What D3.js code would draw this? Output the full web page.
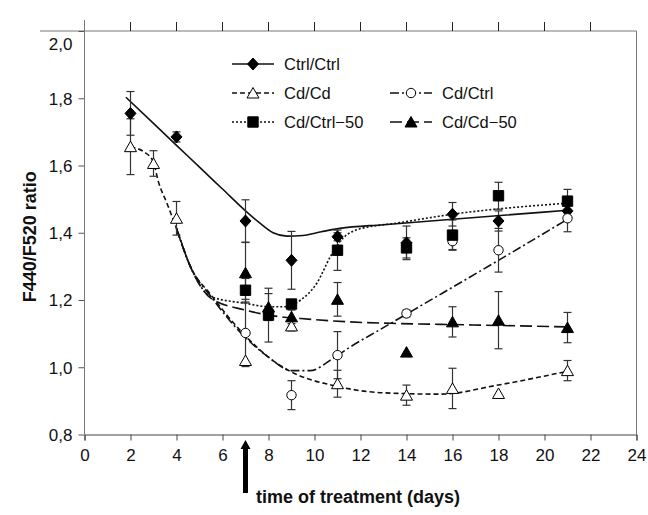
<!DOCTYPE html>
<html>
<head>
<meta charset="utf-8">
<script src="https://cdn.jsdelivr.net/npm/d3@7"></script>
<style>
  body { margin: 0; background: #fff; }
  text { font-family: "Liberation Sans", Arial, sans-serif; fill: #111; }
</style>
</head>
<body>
<svg id="chart" width="648" height="515"></svg>
<script>

const ctrlCtrlDays = [2, 4, 7, 9, 11, 14, 16, 18, 21];
const ctrlCtrlMean = [1.755, 1.685, 1.435, 1.318, 1.388, 1.37, 1.455, 1.435, 1.465];
const ctrlCtrlErr  = [0.065, 0.015, 0.063, 0.086, 0.012, 0.05, 0.035, 0.03, 0.02];

const cdCdDays = [2, 3, 4, 7, 9, 11, 14, 16, 18, 21];
const cdCdMean = [1.656, 1.606, 1.443, 1.02, 1.123, 0.951, 0.917, 0.937, 0.922, 0.99];
const cdCdErr  = [0.083, 0.038, 0.05, 0, 0.015, 0.04, 0.03, 0.06, 0, 0.03];

const cdCtrlDays = [7, 9, 11, 14, 16, 18, 21];
const cdCtrlMean = [1.102, 0.917, 1.036, 1.16, 1.375, 1.348, 1.443];
const cdCtrlErr  = [0.1, 0.043, 0.07, 0.01, 0.025, 0.065, 0.04];

const cdCtrl50Days = [7, 8, 9, 11, 14, 16, 18, 21];
const cdCtrl50Mean = [1.229, 1.155, 1.188, 1.348, 1.355, 1.393, 1.51, 1.494];
const cdCtrl50Err  = [0.035, 0.08, 0.01, 0.06, 0.03, 0.045, 0.04, 0.035];

const cdCd50Days = [7, 8, 9, 11, 14, 16, 18, 21];
const cdCd50Mean = [1.281, 1.179, 1.15, 1.202, 1.045, 1.135, 1.14, 1.118];
const cdCd50Err  = [0.09, 0.04, 0.02, 0.05, 0, 0.045, 0.085, 0.045];

// Fitted curves [day, value]
const ctrlCtrlFit = [[1.8,1.803],[4,1.66],[5,1.595],[6,1.53],[7,1.465],[7.6,1.43],[8.2,1.40],
  [8.8,1.39],[9.5,1.392],[10.3,1.403],[11.1,1.413],[13,1.424],[16,1.44],[21,1.467]];
const cdCdFit = [[2,1.655],[2.6,1.64],[3,1.61],[3.2,1.555],[3.6,1.485],[4,1.413],[4.6,1.30],
  [5.5,1.215],[6.9,1.10],[8,1.03],[9,0.986],[10.8,0.946],[13,0.924],[15.5,0.92],[17.9,0.946],[21,0.988]];
const cdCtrlFit = [[4,1.413],[4.6,1.30],[5.5,1.21],[6.9,1.095],[8,1.03],[9,0.99],[9.8,0.99],
  [10.8,1.026],[11.5,1.058],[12.85,1.112],[14.3,1.17],[18,1.318],[21,1.44]];
const cdCtrl50Fit = [[4,1.413],[4.6,1.30],[5.5,1.21],[7,1.19],[8,1.18],[8.7,1.18],[9.4,1.20],
  [10.1,1.25],[10.7,1.33],[11.1,1.373],[11.8,1.408],[13.7,1.43],[16,1.455],[21,1.488]];
const cdCd50Fit = [[4,1.413],[4.6,1.30],[5.5,1.205],[7,1.17],[8,1.155],[9.4,1.145],[11.5,1.135],
  [13.7,1.13],[16,1.127],[21,1.12]];

// Axis ticks and labels
const xTicks = [0, 2, 4, 6, 8, 10, 12, 14, 16, 18, 20, 22, 24];
const yTicks = [0.8, 1.0, 1.2, 1.4, 1.6, 1.8, 2.0];
const xTitle = "time of treatment (days)";
const yTitle = "F440/F520 ratio";
const treatmentDay = 7;

// Series table built from the arrays above
const series = [
  { name: "Ctrl/Ctrl",  days: ctrlCtrlDays, mean: ctrlCtrlMean, err: ctrlCtrlErr, fit: ctrlCtrlFit, symbol: "diamond", dash: null,      col: 0, row: 0 },
  { name: "Cd/Cd",      days: cdCdDays,     mean: cdCdMean,     err: cdCdErr,     fit: cdCdFit,     symbol: "triOpen", dash: "5,3",     col: 0, row: 1 },
  { name: "Cd/Ctrl",    days: cdCtrlDays,   mean: cdCtrlMean,   err: cdCtrlErr,   fit: cdCtrlFit,   symbol: "circle",  dash: "9,3,2,3", col: 1, row: 1 },
  { name: "Cd/Ctrl\u221250", days: cdCtrl50Days, mean: cdCtrl50Mean, err: cdCtrl50Err, fit: cdCtrl50Fit, symbol: "square", dash: "2,2", col: 0, row: 2 },
  { name: "Cd/Cd\u221250",   days: cdCd50Days,   mean: cdCd50Mean,   err: cdCd50Err,   fit: cdCd50Fit,   symbol: "triFill", dash: "12,5", col: 1, row: 2 }
];

const svg = d3.select("#chart");

const x = d3.scaleLinear().domain([0, 24]).range([84.5, 636.5]);
const y = d3.scaleLinear().domain([0.8, 2.0]).range([434.5, 31]);

// Marker shapes
function symbolPath(type) {
  switch (type) {
    case "diamond": return "M0,-6L5.5,0L0,6L-5.5,0Z";
    case "square":  return "M-5.2,-5.2H5.2V5.2H-5.2Z";
    case "triOpen":
    case "triFill": return "M0,-5.5L6,5L-6,5Z";
    case "circle":  return "M4.7,0A4.7,4.7 0 1,1 -4.7,0A4.7,4.7 0 1,1 4.7,0Z";
  }
}
function symbolFill(type) {
  return (type === "triOpen" || type === "circle") ? "#fff" : "#000";
}

// Frame: top line with small upward ticks, right border
const frame = svg.append("g").attr("stroke", "#777").attr("fill", "none");
frame.append("line").attr("x1", 40).attr("x2", x(24)).attr("y1", y(2.0)).attr("y2", y(2.0));
frame.append("line").attr("x1", x(24)).attr("x2", x(24)).attr("y1", y(2.0)).attr("y2", y(0.8));
frame.selectAll(".topTick").data(xTicks.slice(1, -1)).join("line")
  .attr("stroke", "#222")
  .attr("x1", d => x(d)).attr("x2", d => x(d))
  .attr("y1", y(2.0)).attr("y2", y(2.0) - 9);

// Y axis
const yAxis = svg.append("g")
  .attr("transform", `translate(${x(0)},0)`)
  .call(d3.axisLeft(y).tickValues(yTicks).tickSize(6).tickPadding(6)
    .tickFormat(d => d.toFixed(1).replace(".", ",")));
yAxis.select(".domain").remove();
yAxis.selectAll(".tick line").attr("stroke", "#555");
yAxis.selectAll(".tick text").attr("font-size", 17).attr("fill", "#111")
  .attr("font-family", "Liberation Sans, Arial, sans-serif")
  .attr("dy", d => d === 2.0 ? "1.1em" : "0.34em");
svg.append("line").attr("stroke", "#777")
  .attr("x1", x(0)).attr("x2", x(0)).attr("y1", y(2.0) - 11).attr("y2", y(0.8));

// X axis
const xAxis = svg.append("g")
  .attr("transform", `translate(0,${y(0.8)})`)
  .call(d3.axisBottom(x).tickValues(xTicks).tickSize(6).tickPadding(8));
xAxis.select(".domain").attr("stroke", "#444");
xAxis.selectAll(".tick line").attr("stroke", "#444");
xAxis.selectAll(".tick text").attr("font-size", 17).attr("fill", "#111")
  .attr("font-family", "Liberation Sans, Arial, sans-serif");

// Axis titles
svg.append("text")
  .attr("x", 358).attr("y", 503)
  .attr("text-anchor", "middle").attr("font-size", 18).attr("font-weight", "bold")
  .text(xTitle);
svg.append("text")
  .attr("transform", `translate(36,${(y(0.8) + y(2.0)) / 2 + 4}) rotate(-90)`)
  .attr("text-anchor", "middle").attr("font-size", 18).attr("font-weight", "bold")
  .text(yTitle);

// Treatment arrow
const ax = x(treatmentDay);
svg.append("path")
  .attr("fill", "#000")
  .attr("d", `M${ax},440 L${ax + 5},449 L${ax + 2.5},449 L${ax + 2.5},493 L${ax - 2.5},493 L${ax - 2.5},449 L${ax - 5},449 Z`);

// Fitted curves
const line = d3.line().x(d => x(d[0])).y(d => y(d[1])).curve(d3.curveMonotoneX);
svg.append("g").selectAll("path").data(series).join("path")
  .attr("d", s => line(s.fit))
  .attr("fill", "none")
  .attr("stroke", "#111")
  .attr("stroke-width", 1.6)
  .attr("stroke-dasharray", s => s.dash);

// Error bars
const bars = series.flatMap(s => s.days.map((d, i) => ({ d, m: s.mean[i], e: s.err[i] })))
  .filter(b => b.e > 0);
const eb = svg.append("g").attr("stroke", "#333").attr("stroke-width", 1.2);
eb.selectAll(".v").data(bars).join("line")
  .attr("x1", b => x(b.d)).attr("x2", b => x(b.d))
  .attr("y1", b => y(b.m + b.e)).attr("y2", b => y(b.m - b.e));
eb.selectAll(".capT").data(bars).join("line")
  .attr("x1", b => x(b.d) - 4).attr("x2", b => x(b.d) + 4)
  .attr("y1", b => y(b.m + b.e)).attr("y2", b => y(b.m + b.e));
eb.selectAll(".capB").data(bars).join("line")
  .attr("x1", b => x(b.d) - 4).attr("x2", b => x(b.d) + 4)
  .attr("y1", b => y(b.m - b.e)).attr("y2", b => y(b.m - b.e));

// Markers
series.forEach(s => {
  svg.append("g").selectAll("path").data(s.days.map((d, i) => [d, s.mean[i]])).join("path")
    .attr("transform", p => `translate(${x(p[0])},${y(p[1])})`)
    .attr("d", symbolPath(s.symbol))
    .attr("fill", symbolFill(s.symbol))
    .attr("stroke", "#000")
    .attr("stroke-width", 1);
});

// Legend
const legCol = [232, 390];
const legRow = [64, 93, 122];
const legend = svg.append("g").selectAll("g").data(series).join("g")
  .attr("transform", s => `translate(${legCol[s.col]},${legRow[s.row]})`);
legend.append("line")
  .attr("x1", 0).attr("x2", 42).attr("y1", 0).attr("y2", 0)
  .attr("stroke", "#111").attr("stroke-width", 1.6)
  .attr("stroke-dasharray", s => s.dash);
legend.append("path")
  .attr("transform", "translate(21,0)")
  .attr("d", s => symbolPath(s.symbol))
  .attr("fill", s => symbolFill(s.symbol))
  .attr("stroke", "#000");
legend.append("text")
  .attr("x", 52).attr("dy", "0.35em")
  .attr("font-size", 16.5)
  .text(s => s.name);

</script>
</body>
</html>
